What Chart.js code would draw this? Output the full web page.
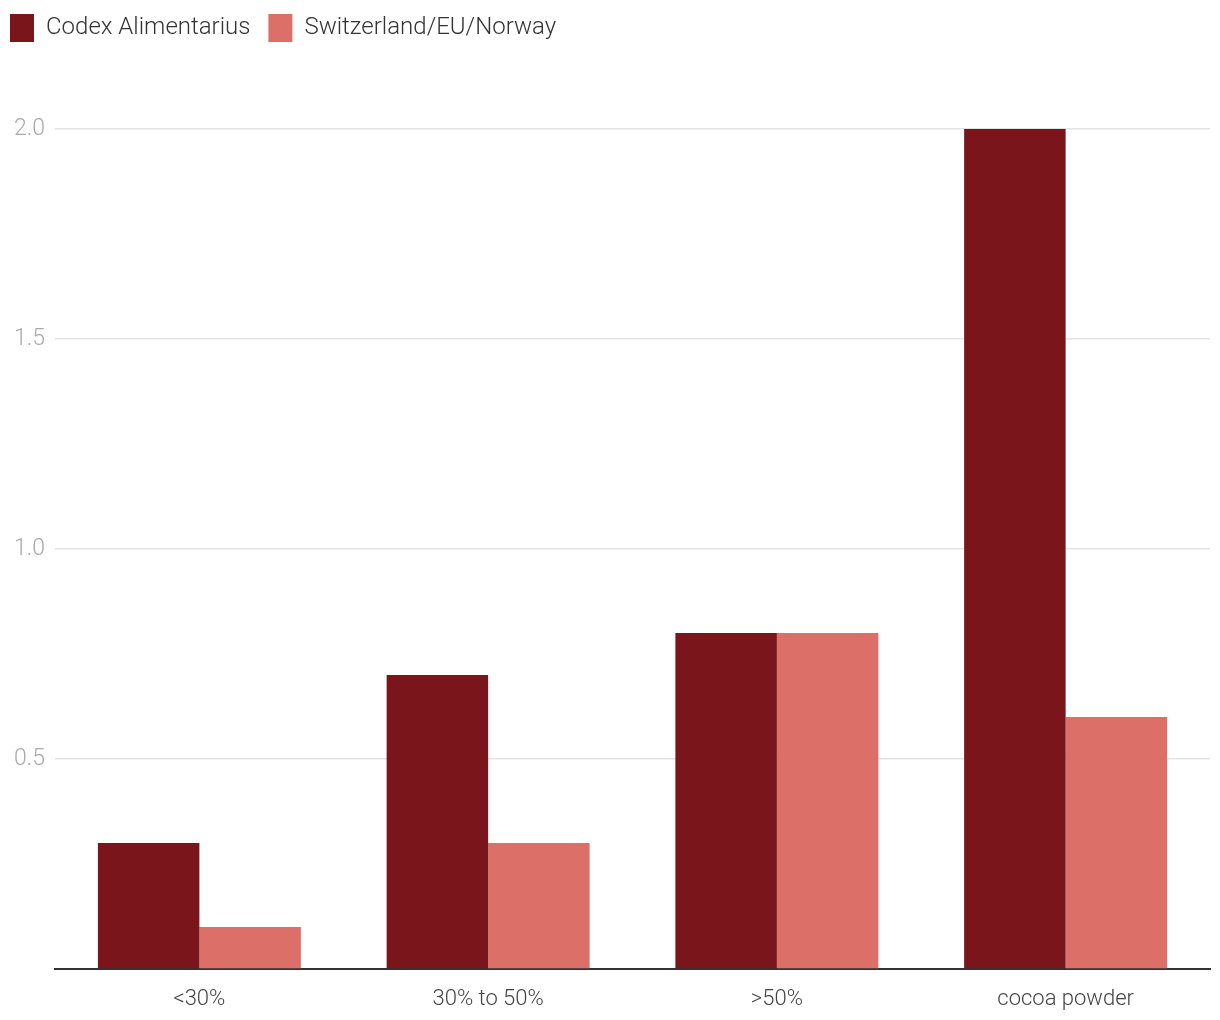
<!DOCTYPE html>
<html>
<head>
<meta charset="utf-8">
<script src="https://cdn.jsdelivr.net/npm/chart.js@4/dist/chart.umd.min.js"></script>
<style>
  html, body { margin: 0; padding: 0; background: #fff; }
  #wrap { width: 1220px; height: 1020px; position: relative; }
</style>
</head>
<body>
<div id="wrap"><canvas id="chart"></canvas></div>
<script>
// data
const categories = ['<30%', '30% to 50%', '>50%', 'cocoa powder'];
const codexValues = [0.3, 0.7, 0.8, 2.0];
const swissValues = [0.1, 0.3, 0.8, 0.6];
const yTicks = [0.5, 1.0, 1.5, 2.0];

const darkRed = '#79151b';
const salmon = '#dc7069';

// push the plot area down below the legend
const legendGap = {
    id: 'legendGap',
    beforeInit(chart) {
        const fit = chart.legend.fit;
        chart.legend.fit = function() {
            fit.bind(chart.legend)();
            this.height += 77;
        };
    }
};

const ctx = document.getElementById('chart').getContext('2d');
new Chart(ctx, {
    type: 'bar',
    data: {
        labels: categories,
        datasets: [{
            label: 'Codex Alimentarius',
            data: codexValues,
            backgroundColor: darkRed,
            categoryPercentage: 0.703,
            barPercentage: 1.0
        }, {
            label: 'Switzerland/EU/Norway',
            data: swissValues,
            backgroundColor: salmon,
            categoryPercentage: 0.703,
            barPercentage: 1.0
        }]
    },
    options: {
        responsive: true,
        maintainAspectRatio: false,
        animation: false,
        layout: { padding: { left: -8, right: 10, top: -4, bottom: 0 } },
        plugins: {
            legend: {
                position: 'top',
                align: 'start',
                labels: {
                    boxWidth: 24,
                    boxHeight: 28,
                    padding: 18,
                    color: '#333',
                    font: { family: 'Roboto', size: 24, weight: 300 }
                }
            },
            tooltip: { enabled: false }
        },
        scales: {
            x: {
                afterFit(scale) { scale.height = 51; },
                grid: { display: false },
                border: { display: true, color: '#333', width: 2 },
                ticks: {
                    color: '#444',
                    padding: 9,
                    font: { family: 'Roboto', size: 22, weight: 300 }
                }
            },
            y: {
                min: 0,
                max: 2.0,
                afterFit(scale) { scale.width = 63; },
                afterBuildTicks(scale) {
                    scale.ticks = [0].concat(yTicks).map(v => ({ value: v }));
                },
                border: { display: false },
                grid: { color: '#e3e3e3', lineWidth: 1.5, drawTicks: false },
                ticks: {
                    color: '#aaa',
                    padding: 10,
                    font: { family: 'Roboto', size: 23, weight: 300 },
                    callback: v => v === 0 ? '' : v.toFixed(1)
                }
            }
        }
    },
    plugins: [legendGap]
});
</script>
</body>
</html>
